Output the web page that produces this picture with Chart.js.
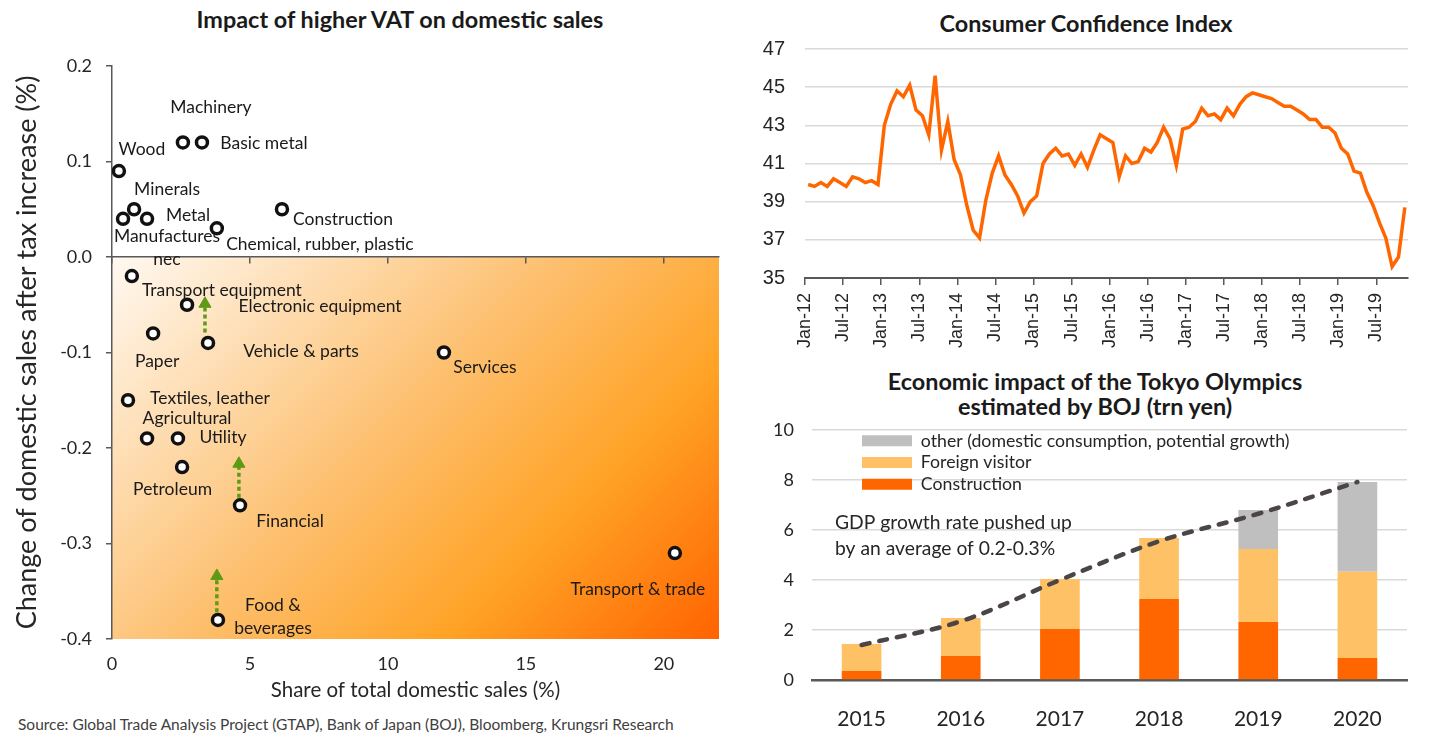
<!DOCTYPE html>
<html>
<head>
<meta charset="utf-8">
<title>VAT, confidence and Olympics</title>
<script src="https://cdn.jsdelivr.net/npm/chart.js@4.4.1/dist/chart.umd.min.js"></script>
<style>
  body { margin: 0; background: #fff; width: 1430px; height: 746px; position: relative; overflow: hidden; font-family: Lato, sans-serif; }
  canvas { position: absolute; }
  .title { position: absolute; width: 600px; text-align: center; font-weight: bold; font-size: 23.4px; line-height: 25px; color: #1a1a1a; white-space: nowrap; }
  #source { position: absolute; left: 18px; top: 715px; font-size: 15.5px; color: #404040; white-space: nowrap; }
</style>
</head>
<body>
<div class="title" style="left:100px; top:7px;">Impact of higher VAT on domestic sales</div>
<div class="title" style="left:786px; top:11px;">Consumer Confidence Index</div>
<div class="title" style="left:795px; top:369px;">Economic impact of the Tokyo Olympics<br>estimated by BOJ (trn yen)</div>

<canvas id="vat-chart" width="740" height="712" style="left:0; top:0;"></canvas>
<canvas id="cci-chart" width="690" height="360" style="left:740px; top:0;"></canvas>
<canvas id="olympics-chart" width="690" height="381" style="left:740px; top:365px;"></canvas>

<div id="source">Source: Global Trade Analysis Project (GTAP), Bank of Japan (BOJ), Bloomberg, Krungsri Research</div>

<script>
// VAT scatter
var sectors = ['Wood', 'Machinery', 'Basic metal', 'Minerals', 'Manufactures\nnec', 'Metal',
  'Chemical, rubber, plastic', 'Construction', 'Transport equipment', 'Electronic equipment',
  'Paper', 'Vehicle & parts', 'Services', 'Textiles, leather', 'Agricultural', 'Utility',
  'Petroleum', 'Financial', 'Food &\nbeverages', 'Transport & trade'];
var salesShare = [0.25, 2.57, 3.26, 0.8, 0.4, 1.27, 3.8, 6.16, 0.72, 2.72,
  1.49, 3.48, 12.03, 0.58, 1.27, 2.39, 2.54, 4.64, 3.84, 20.4];
var salesChange = [0.09, 0.12, 0.12, 0.05, 0.04, 0.04, 0.03, 0.05, -0.02, -0.05,
  -0.08, -0.09, -0.10, -0.15, -0.19, -0.19, -0.22, -0.26, -0.38, -0.31];
var vatXTicks = [0, 5, 10, 15, 20];
var vatYTicks = [0.2, 0.1, 0, -0.1, -0.2, -0.3, -0.4];
var arrowX = [3.37, 4.6, 3.8];
var arrowFrom = [-0.079, -0.252, -0.372];
var arrowTo = [-0.049, -0.2165, -0.334];

// consumer confidence, monthly Jan-12 .. Nov-19
var cciTickLabels = ['Jan-12', 'Jul-12', 'Jan-13', 'Jul-13', 'Jan-14', 'Jul-14', 'Jan-15', 'Jul-15',
  'Jan-16', 'Jul-16', 'Jan-17', 'Jul-17', 'Jan-18', 'Jul-18', 'Jan-19', 'Jul-19'];
var cciValues = [
  39.9, 39.8, 40.0, 39.8, 40.2, 40.0, 39.8, 40.3, 40.2, 40.0, 40.1, 39.9,
  43.0, 44.1, 44.8, 44.5, 45.1, 43.8, 43.5, 42.5, 45.6, 41.7, 43.2, 41.2,
  40.4, 38.8, 37.5, 37.1, 39.1, 40.5, 41.4, 40.4, 39.9, 39.3, 38.4, 39.0,
  39.3, 41.0, 41.5, 41.8, 41.4, 41.5, 40.9, 41.5, 40.8, 41.7, 42.5, 42.3,
  42.1, 40.3, 41.4, 41.0, 41.1, 41.8, 41.6, 42.1, 42.9, 42.3, 40.9, 42.8,
  42.9, 43.2, 43.9, 43.5, 43.6, 43.3, 43.9, 43.5, 44.1, 44.5, 44.7, 44.6,
  44.5, 44.4, 44.2, 44.0, 44.0, 43.8, 43.6, 43.3, 43.3, 42.9, 42.9, 42.6,
  41.8, 41.5, 40.6, 40.5, 39.5, 38.8, 37.9, 37.1, 35.6, 36.1, 38.7];

// Olympics impact (trn yen)
var years = ['2015', '2016', '2017', '2018', '2019', '2020'];
var construction = [0.36, 0.96, 2.04, 3.24, 2.32, 0.88];
var foreignVisitor = [1.08, 1.52, 2.0, 2.44, 2.92, 3.45];
var otherImpact = [0, 0, 0, 0, 1.56, 3.59];
var gdpLine = [1.4, 2.35, 4.0, 5.55, 6.65, 7.92];

// label placement (pixels from the point centre)
var labelOffset = [[23, -22], [28, -35], [62, 1], [33, -20], [44, 29.5], [41, -3], [103, 16], [61, 10],
  [90, 14], [133, 2], [4, 28], [93, 8], [41, 15], [82, -2], [40, -20], [45, -1], [-9.5, 22],
  [50, 16], [55, -3.5], [-37, 36]];

Chart.defaults.font.family = 'Lato, sans-serif';
Chart.defaults.color = '#262626';

var axisGrey = '#595959';
var arrowGreen = '#5E9B14';

var shadePlugin = {
  id: 'shade',
  beforeDraw: function (chart) {
    var ctx = chart.ctx, x = chart.scales.x, y = chart.scales.y;
    var top = y.getPixelForValue(0), bottom = y.bottom;
    var w = x.right - x.left, h = bottom - top, half = (w + h) / 2;
    var g = ctx.createLinearGradient(x.left, top, x.left + half, top + half);
    g.addColorStop(0, '#FFF9F2');
    g.addColorStop(0.45, '#FDC070');
    g.addColorStop(0.72, '#FFA326');
    g.addColorStop(1, '#FF6300');
    ctx.save();
    ctx.fillStyle = g;
    ctx.fillRect(x.left, top, w, h);
    ctx.restore();
  }
};

var sectorLabelPlugin = {
  id: 'sectorLabels',
  afterDatasetsDraw: function (chart) {
    var ctx = chart.ctx, meta = chart.getDatasetMeta(0);
    ctx.save();
    ctx.font = '17.5px Lato';
    ctx.fillStyle = '#1a1a1a';
    ctx.textAlign = 'center';
    ctx.textBaseline = 'middle';
    meta.data.forEach(function (pt, i) {
      var lines = sectors[i].split('\n'), off = labelOffset[i];
      lines.forEach(function (line, k) {
        ctx.fillText(line, pt.x + off[0], pt.y + off[1] + (k - (lines.length - 1) / 2) * 23);
      });
    });
    ctx.restore();
  }
};

var arrowSets = arrowX.map(function (x, i) {
  return {
    type: 'line',
    data: [{ x: x, y: arrowFrom[i] }, { x: x, y: arrowTo[i] }],
    borderColor: arrowGreen,
    borderWidth: 3.5,
    borderDash: [4, 3],
    pointStyle: 'triangle',
    pointRadius: [0, 7],
    pointBackgroundColor: arrowGreen,
    pointBorderColor: arrowGreen,
    pointBorderWidth: 1,
    order: 1
  };
});

new Chart(document.getElementById('vat-chart'), {
  type: 'scatter',
  data: {
    datasets: [{
      data: salesShare.map(function (x, i) { return { x: x, y: salesChange[i] }; }),
      pointRadius: 5.5,
      pointBorderWidth: 3.5,
      pointBackgroundColor: '#ffffff',
      pointBorderColor: '#111111',
      order: 0
    }].concat(arrowSets)
  },
  options: {
    responsive: false,
    animation: false,
    events: [],
    layout: { padding: { top: 66, right: 21, left: 0, bottom: 0 } },
    plugins: { legend: { display: false }, tooltip: { enabled: false } },
    scales: {
      x: {
        type: 'linear', min: 0, max: 22,
        afterBuildTicks: function (s) { s.ticks = vatXTicks.map(function (v) { return { value: v }; }); },
        grid: { display: false },
        border: { display: false },
        ticks: { font: { size: 18 }, padding: 6 },
        title: { display: true, text: 'Share of total domestic sales (%)', font: { size: 20.5 }, padding: { top: 0, bottom: 9 } },
        afterFit: function (s) { s.height = 73; }
      },
      xZero: {
        type: 'linear', axis: 'x', position: { y: 0 }, min: 0, max: 22,
        afterBuildTicks: function (s) { s.ticks = vatXTicks.map(function (v) { return { value: v }; }); },
        grid: { drawOnChartArea: false, tickLength: 6, color: axisGrey, lineWidth: 1.5 },
        border: { color: axisGrey, width: 1.5 },
        ticks: { display: false },
        afterFit: function (s) { s.height = 0; }
      },
      y: {
        min: -0.4, max: 0.2,
        afterBuildTicks: function (s) { s.ticks = vatYTicks.map(function (v) { return { value: v }; }); },
        grid: { drawOnChartArea: false, tickLength: 6, color: axisGrey, lineWidth: 1.5 },
        border: { color: axisGrey, width: 1.5 },
        ticks: { font: { size: 18 }, padding: 14, callback: function (v) { return v.toFixed(1); } },
        title: { display: true, text: 'Change of domestic sales after tax increase (%)', font: { size: 27 }, padding: { top: 11, bottom: 0 } },
        afterFit: function (s) { s.width = 112; }
      }
    }
  },
  plugins: [shadePlugin, sectorLabelPlugin]
});

new Chart(document.getElementById('cci-chart'), {
  type: 'line',
  data: {
    datasets: [{
      data: cciValues.map(function (v, i) { return { x: i, y: v }; }),
      borderColor: '#FF6600',
      borderWidth: 3.5,
      pointRadius: 0,
      tension: 0
    }]
  },
  options: {
    responsive: false,
    animation: false,
    events: [],
    layout: { padding: { top: 49, right: 22, left: 0, bottom: 0 } },
    plugins: { legend: { display: false }, tooltip: { enabled: false } },
    scales: {
      x: {
        type: 'linear', min: -0.5, max: 94.5,
        afterBuildTicks: function (s) { s.ticks = cciTickLabels.map(function (l, k) { return { value: k * 6 - 0.5 }; }); },
        ticks: {
          autoSkip: false, maxRotation: 90, minRotation: 90, padding: 8,
          font: { family: '"Liberation Sans", Arial, sans-serif', size: 18 },
          callback: function (v, i) { return cciTickLabels[i]; }
        },
        grid: { drawOnChartArea: false, tickLength: 7, color: axisGrey, lineWidth: 1.5 },
        border: { color: axisGrey, width: 2 },
        afterFit: function (s) { s.height = 82; }
      },
      y: {
        min: 35, max: 47,
        ticks: { stepSize: 2, padding: 20, font: { family: '"Liberation Sans Narrow", "Liberation Sans", sans-serif', size: 20 } },
        grid: { color: '#D9D9D9', lineWidth: 1.5, drawTicks: false },
        border: { display: false },
        afterFit: function (s) { s.width = 65; }
      }
    }
  }
});

// keep the legend inside the plot, near its top-left corner
var legendShiftPlugin = {
  id: 'legendShift',
  afterLayout: function (chart) {
    var lg = chart.legend, area = chart.chartArea;
    lg.left = area.left + 46;
    lg.right = area.right;
    lg.top = area.top - 2;
    lg.bottom = area.bottom;
  }
};

var gdpNotePlugin = {
  id: 'gdpNote',
  afterDraw: function (chart) {
    var ctx = chart.ctx, y = chart.scales.y, left = chart.chartArea.left + 23;
    ctx.save();
    ctx.font = '19.3px Lato';
    ctx.fillStyle = '#262626';
    ctx.textBaseline = 'middle';
    ctx.fillText('GDP growth rate pushed up', left, y.getPixelForValue(6.3));
    ctx.fillText('by an average of 0.2-0.3%', left, y.getPixelForValue(5.25));
    ctx.restore();
  }
};

new Chart(document.getElementById('olympics-chart'), {
  type: 'bar',
  data: {
    labels: years,
    datasets: [
      {
        type: 'line', label: 'GDP', data: gdpLine, stack: 'gdp',
        borderColor: '#4B4545', borderWidth: 4.5, borderDash: [8, 10], borderCapStyle: 'round',
        pointRadius: 0, tension: 0.35, order: 0
      },
      { label: 'Construction', data: construction, backgroundColor: '#FF6600', order: 1 },
      { label: 'Foreign visitor', data: foreignVisitor, backgroundColor: '#FFC166', order: 1 },
      { label: 'other (domestic consumption, potential growth)', data: otherImpact, backgroundColor: '#BFBFBF', order: 1 }
    ]
  },
  options: {
    responsive: false,
    animation: false,
    events: [],
    barPercentage: 0.4,
    categoryPercentage: 1,
    layout: { padding: { top: 65, right: 23, left: 0, bottom: 0 } },
    plugins: {
      tooltip: { enabled: false },
      legend: {
        position: 'chartArea',
        align: 'start',
        reverse: true,
        labels: {
          boxWidth: 50, boxHeight: 11, padding: 4,
          font: { size: 17.7 },
          filter: function (item) { return item.text !== 'GDP'; }
        }
      }
    },
    scales: {
      x: {
        stacked: true,
        grid: { display: false },
        border: { color: axisGrey, width: 2.5 },
        ticks: { font: { size: 21 }, padding: 19 },
        afterFit: function (s) { s.height = 66; }
      },
      y: {
        stacked: true, min: 0, max: 10,
        ticks: { stepSize: 2, font: { size: 18 }, padding: 18 },
        grid: { color: '#D9D9D9', lineWidth: 1.5, drawTicks: false },
        border: { display: false },
        afterFit: function (s) { s.width = 72; }
      }
    }
  },
  plugins: [legendShiftPlugin, gdpNotePlugin]
});
</script>
</body>
</html>
